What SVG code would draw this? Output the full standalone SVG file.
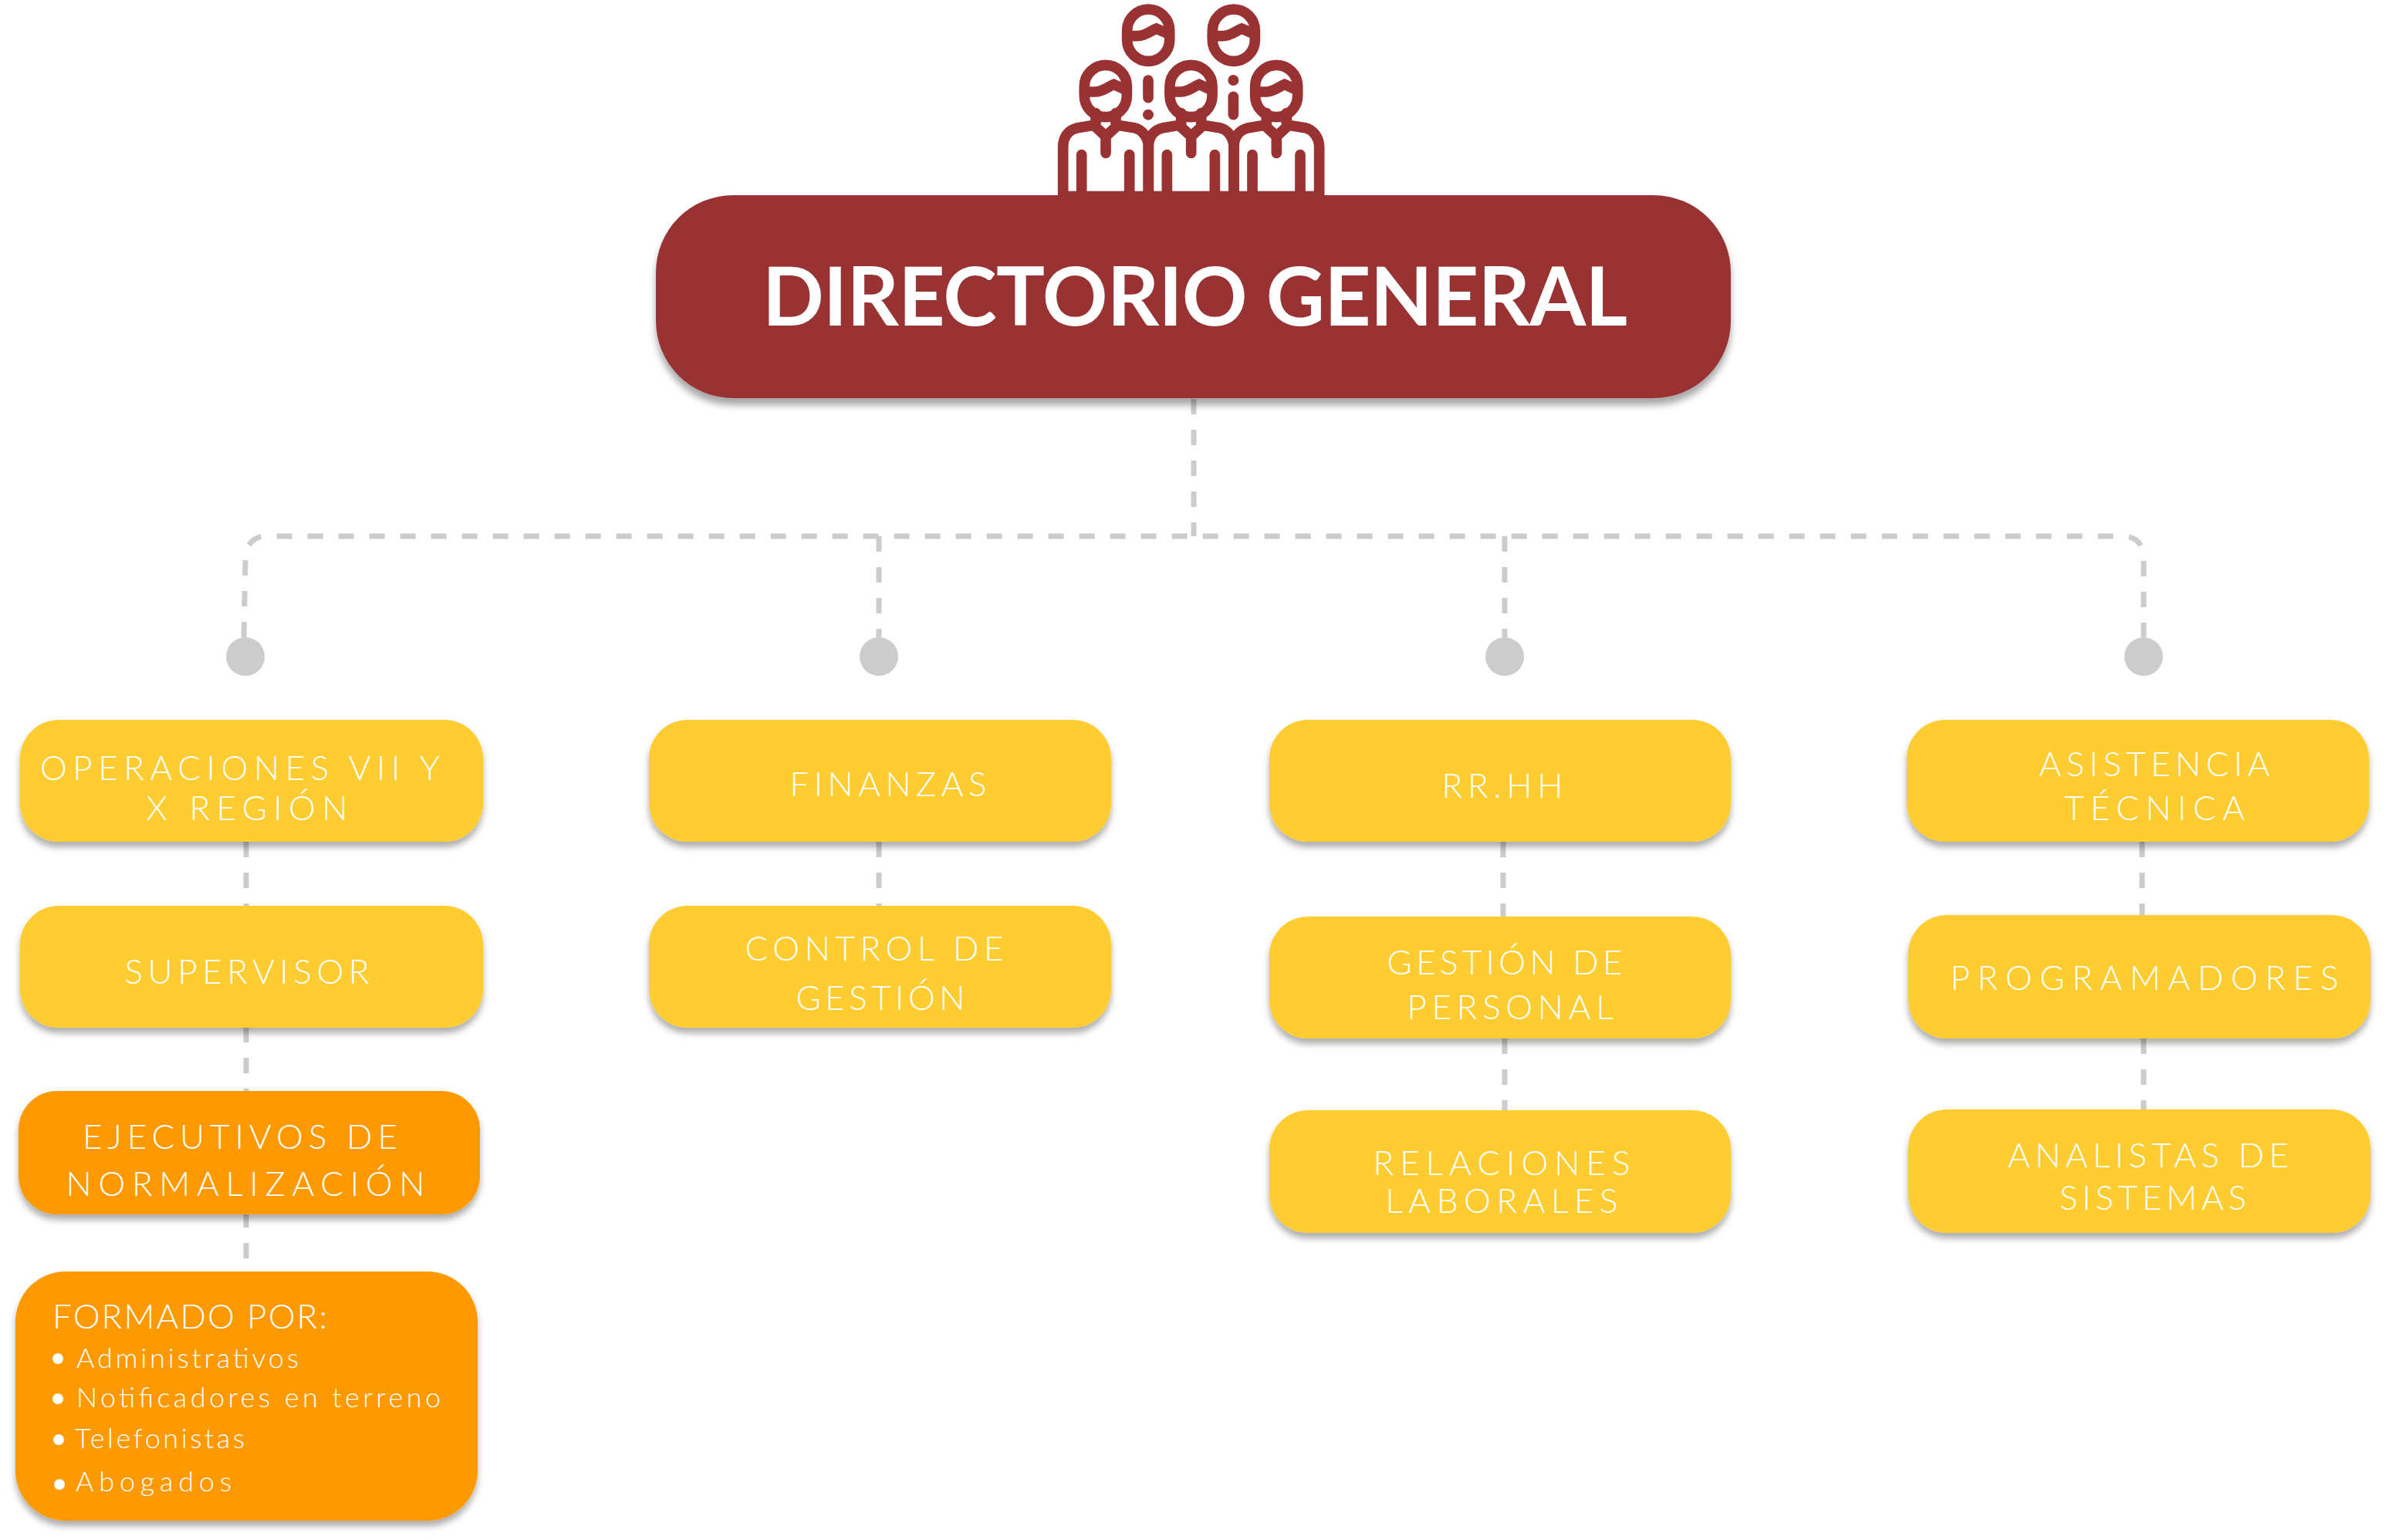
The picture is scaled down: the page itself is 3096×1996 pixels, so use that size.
<svg xmlns="http://www.w3.org/2000/svg" xmlns:xlink="http://www.w3.org/1999/xlink" width="3096" height="1996" viewBox="0 0 3096 1996">
<style>
.conn{fill:none;stroke:#ccc;stroke-width:7;stroke-dasharray:20 20}
.dot{fill:#ccc}
.y{fill:#fc3;filter:url(#sh)}
.o{fill:#f90;filter:url(#sh)}
text{font-family:"Lato","Open Sans",sans-serif;fill:#fff;font-weight:300;font-size:44px;text-anchor:middle}
.l{text-anchor:start}
.s{font-size:36px}
.ic{fill:none;stroke:#933;stroke-width:41;stroke-linecap:round;stroke-linejoin:miter}
</style>
<defs>
<filter id="sh" x="-10%" y="-20%" width="120%" height="145%"><feDropShadow dx="0" dy="7" stdDeviation="4" flood-color="#000" flood-opacity=".32"/></filter>
<filter id="shb" x="-10%" y="-20%" width="120%" height="145%"><feDropShadow dx="0" dy="9" stdDeviation="5" flood-color="#000" flood-opacity=".35"/></filter>
<g id="head"><rect x="196" y="253" width="165" height="202" rx="82.5" ry="82.5"/><path d="M196 357H235C270 357 290 335 310 328L352 347"/></g>
<g id="person"><use xlink:href="#head"/><path d="M113 760V572C113 530 135 505 170 497L232 487L279 530L326 487L390 497C425 505 445 540 445 572V760M279 530V595M185 602V760M371 602V760M240 440V480M318 440V480"/></g>
</defs>
<g id="connectors">
<path class="conn" d="M1547 517V695"/>
<path class="conn" d="M316 826L318 725Q320 695 345 695H2750Q2778 695 2778 725V826"/>
<path class="conn" d="M1139 695V826"/>
<path class="conn" d="M1950 695V826"/>
<path class="conn" d="M319 1091V1648"/>
<path class="conn" d="M1139 1091V1174"/>
<path class="conn" d="M1948 1091V1188"/>
<path class="conn" d="M1950 1346V1439"/>
<path class="conn" d="M2776 1091V1186"/>
<path class="conn" d="M2778 1346V1439"/>
<circle class="dot" cx="318" cy="851" r="25"/>
<circle class="dot" cx="1139" cy="851" r="25"/>
<circle class="dot" cx="1950" cy="851" r="25"/>
<circle class="dot" cx="2778" cy="851" r="25"/>
</g>
<g id="icon" transform="translate(1340 0) scale(.33333)">
<g class="ic">
<use xlink:href="#head" x="166" y="-217"/><use xlink:href="#head" x="498" y="-217"/>
<use xlink:href="#person"/><use xlink:href="#person" x="332"/><use xlink:href="#person" x="664"/>
<path d="M444 312V380M775 376V446"/>
</g>
<circle cx="444" cy="446" r="21" fill="#933"/><circle cx="775" cy="312" r="21" fill="#933"/>
<rect x="93" y="743" width="1035" height="30" fill="#933"/>
</g>
<g id="directorio"><rect x="850" y="253" width="1393" height="263" rx="100" fill="#933" filter="url(#shb)"/>
<text x="1548.5" y="422" style="font-size:105px;font-weight:700" textLength="1121">DIRECTORIO GENERAL</text></g>
<g id="operaciones"><rect class="y" x="26" y="933" width="600" height="158" rx="50"/><text x="311" y="1011" textLength="518">OPERACIONES VII Y</text><text x="320" y="1063" textLength="261">X REGIÓN</text></g>
<g id="finanzas"><rect class="y" x="841" y="933" width="599" height="158" rx="50"/><text x="1151" y="1032" textLength="255">FINANZAS</text></g>
<g id="rrhh"><rect class="y" x="1645" y="933" width="598" height="158" rx="50"/><text x="1947" y="1034" textLength="157">RR.HH</text></g>
<g id="asistencia"><rect class="y" x="2471" y="933" width="599" height="158" rx="50"/><text x="2792" y="1006" textLength="299">ASISTENCIA</text><text x="2792" y="1063" textLength="234">TÉCNICA</text></g>
<g id="supervisor"><rect class="y" x="26" y="1174" width="600" height="158" rx="50"/><text x="320" y="1275" textLength="317">SUPERVISOR</text></g>
<g id="control"><rect class="y" x="841" y="1174" width="599" height="158" rx="50"/><text x="1133" y="1245" textLength="335">CONTROL DE</text><text x="1141" y="1309" textLength="219">GESTIÓN</text></g>
<g id="gestion"><rect class="y" x="1645" y="1188" width="598" height="158" rx="50"/><text x="1950" y="1263" textLength="305">GESTIÓN DE</text><text x="1957" y="1321" textLength="267">PERSONAL</text></g>
<g id="relaciones"><rect class="y" x="1645" y="1439" width="598" height="159" rx="50"/><text x="1946" y="1523" textLength="333">RELACIONES</text><text x="1946" y="1572" textLength="301">LABORALES</text></g>
<g id="programadores"><rect class="y" x="2473" y="1186" width="599" height="160" rx="50"/><text x="2779" y="1283" textLength="503">PROGRAMADORES</text></g>
<g id="analistas"><rect class="y" x="2473" y="1438" width="599" height="160" rx="50"/><text x="2784" y="1513" textLength="364">ANALISTAS DE</text><text x="2790" y="1568" textLength="242">SISTEMAS</text></g>
<g id="ejecutivos"><rect class="o" x="24" y="1414" width="598" height="160" rx="50"/><text x="311" y="1489" textLength="408">EJECUTIVOS DE</text><text x="318" y="1550" textLength="465">NORMALIZACIÓN</text></g>
<g id="formado"><rect class="o" x="20" y="1648" width="599" height="323" rx="65"/>
<text class="l" x="68" y="1722" textLength="356">FORMADO POR:</text>
<circle cx="75" cy="1761" r="7" fill="#fff"/><circle cx="75" cy="1813" r="7" fill="#fff"/><circle cx="76" cy="1866" r="7" fill="#fff"/><circle cx="77" cy="1924" r="7" fill="#fff"/>
<text class="l s" x="99" y="1773" textLength="288">Administrativos</text>
<text class="l s" x="99" y="1824" textLength="472">Notificadores en terreno</text>
<text class="l s" x="97" y="1877" textLength="220">Telefonistas</text>
<text class="l s" x="98" y="1933" textLength="202">Abogados</text></g>
</svg>
